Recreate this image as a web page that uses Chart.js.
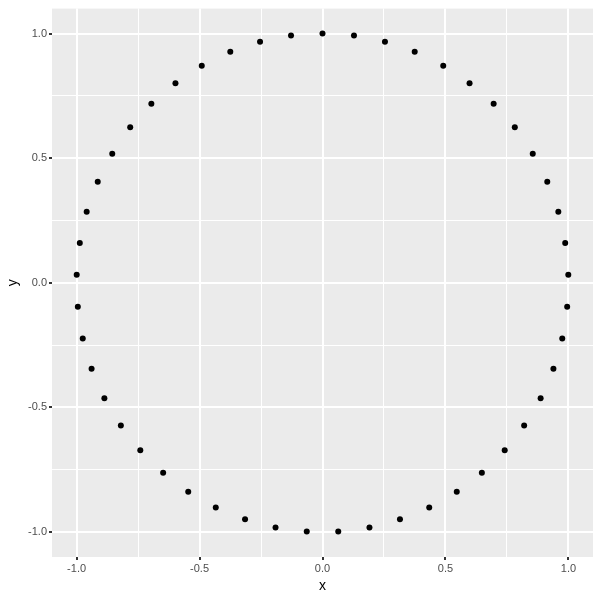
<!DOCTYPE html>
<html><head><meta charset="utf-8">
<script src="https://cdn.jsdelivr.net/npm/chart.js@4"></script>
<style>html,body{margin:0;padding:0;background:#fff}#wrap{width:600px;height:600px}</style>
</head><body><div id="wrap"><canvas id="c" width="600" height="600"></canvas></div>
<script>
const xValues = [0, 0.128, 0.254, 0.375, 0.491, 0.598, 0.696, 0.782, 0.855, 0.914, 0.959, 0.987, 0.9995, 0.995, 0.975, 0.939, 0.887, 0.820, 0.741, 0.648, 0.546, 0.434, 0.315, 0.191, 0.064,
  -0.064, -0.191, -0.315, -0.434, -0.546, -0.648, -0.741, -0.820, -0.887, -0.939, -0.975, -0.995, -0.9995, -0.987, -0.959, -0.914, -0.855, -0.782, -0.696, -0.598, -0.491, -0.375, -0.254, -0.128];
const yValues = [1, 0.992, 0.967, 0.927, 0.871, 0.801, 0.718, 0.624, 0.518, 0.405, 0.285, 0.160, 0.032, -0.096, -0.223, -0.345, -0.463, -0.572, -0.672, -0.762, -0.838, -0.901, -0.949, -0.982, -0.998,
  -0.998, -0.982, -0.949, -0.901, -0.838, -0.762, -0.672, -0.572, -0.463, -0.345, -0.223, -0.096, 0.032, 0.160, 0.285, 0.405, 0.518, 0.624, 0.718, 0.801, 0.871, 0.927, 0.967, 0.992];
const majorTicks = [-1.0, -0.5, 0.0, 0.5, 1.0];
const minorTicks = [-0.75, -0.25, 0.25, 0.75];
const tickLabels = ["-1.0", "-0.5", "0.0", "0.5", "1.0"];

const points = xValues.map((x, i) => ({x: x, y: yValues[i]}));
const allTicks = majorTicks.concat(minorTicks).sort((a, b) => a - b);
const isMajor = v => majorTicks.some(m => Math.abs(m - v) < 1e-9);
const labelFor = v => { const i = majorTicks.findIndex(m => Math.abs(m - v) < 1e-9); return i >= 0 ? tickLabels[i] : ''; };

const panelBg = {
  id: 'panelBg',
  beforeDraw(chart) {
    const a = chart.chartArea, ctx = chart.ctx;
    ctx.save(); ctx.fillStyle = '#ebebeb';
    ctx.fillRect(a.left, a.top, a.right - a.left, a.bottom - a.top);
    ctx.restore();
  }
};

function axis(title, isX) {
  return {
    type: 'linear', min: -1.1, max: 1.1,
    afterBuildTicks: s => { s.ticks = allTicks.map(v => ({value: v})); },
    afterFit: s => { if (isX) s.height = 43; else s.width = 52; },
    border: {display: false},
    grid: {
      color: c => '#ffffff',
      lineWidth: c => (c.tick && isMajor(c.tick.value)) ? 2 : 1,
      tickColor: c => (c.tick && isMajor(c.tick.value)) ? '#333333' : 'rgba(0,0,0,0)',
      tickLength: 3,
      drawTicks: true
    },
    ticks: {
      autoSkip: false, maxRotation: 0,
      color: '#4d4d4d', font: {family: 'Liberation Sans', size: 11}, padding: 2,
      callback: v => labelFor(v)
    },
    title: {display: true, text: title, color: '#000', font: {family: 'Liberation Sans', size: 14},
      padding: isX ? {top: 0, bottom: 5} : {top: 5, bottom: 0}}
  };
}

new Chart(document.getElementById('c'), {
  type: 'scatter',
  data: {datasets: [{data: points, backgroundColor: '#000', borderColor: '#000', pointRadius: 3, pointHoverRadius: 3, borderWidth: 0}]},
  options: {
    responsive: false, animation: false,
    layout: {padding: {top: 7, right: 7, left: 0, bottom: 0}},
    plugins: {legend: {display: false}, tooltip: {enabled: false}},
    scales: {x: axis('x', true), y: axis('y', false)}
  },
  plugins: [panelBg]
});
</script></body></html>
